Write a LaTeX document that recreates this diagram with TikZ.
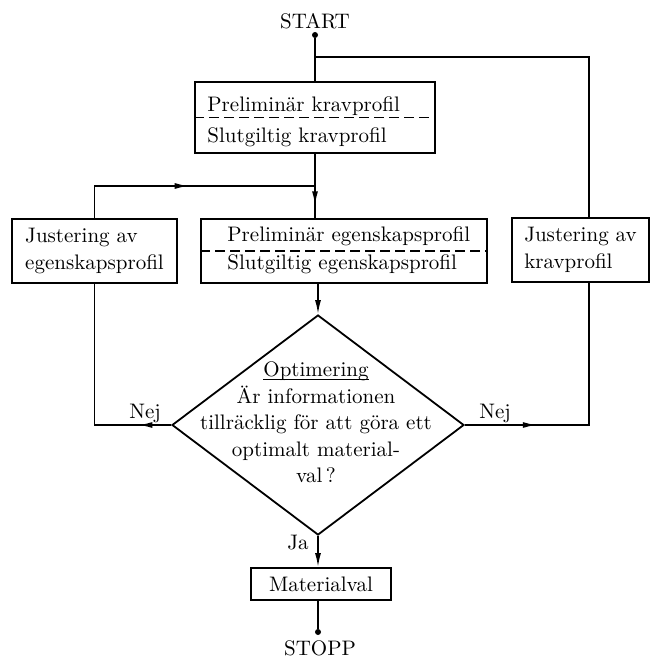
\documentclass[tikz,border=0pt]{standalone}
\usetikzlibrary{shapes.geometric,arrows.meta,decorations.markings}
\begin{document}
\begin{tikzpicture}[x=0.5pt, y=-0.5pt,
  box/.style={rectangle, draw, line width=0.9pt, inner sep=0pt},
  txt/.style={font=\fontsize{10.5}{13.2}\selectfont, inner sep=0pt},
  line/.style={line width=0.8pt},
  arr/.style={line width=0.8pt, -{Latex[length=7pt,width=3pt]}},
  midarrow/.style={postaction={decorate}, decoration={markings, mark=at position #1 with {\arrow{Latex[length=7pt,width=3pt]}}}},
  split/.style={line width=0.8pt, dash pattern=on 5pt off 2.5pt},
  dot/.style={circle, fill, inner sep=0pt, minimum size=3pt}]
  \useasboundingbox (0,0) rectangle (650,658);

  \node[txt] (start) at (315,21) {START};
  \node[dot] (sdot) at (315,35) {};
  \node[box, minimum width=120pt, minimum height=35.5pt] (krav) at (315,117.5) {};
  \node[txt, anchor=west] (kravpre) at (207,106) {Preliminär kravprofil};
  \node[txt, anchor=west] (kravslut) at (207,137) {Slutgiltig kravprofil};

  \node[box, txt, minimum width=82.5pt, minimum height=32pt, align=left] (jegen) at (94.5,251) {Justering av\\egenskapsprofil};
  \node[box, minimum width=143pt, minimum height=32pt] (egen) at (344,251) {};
  \node[txt, anchor=west] (egenpre) at (227,236) {Preliminär egenskapsprofil};
  \node[txt, anchor=west] (egenslut) at (227,264) {Slutgiltig egenskapsprofil};
  \node[box, txt, minimum width=68.5pt, minimum height=32pt, align=left] (jkrav) at (580.5,250) {Justering av\\kravprofil};

  \node[diamond, draw, line width=0.9pt, inner sep=0pt, minimum width=146pt, minimum height=110pt] (dia) at (318,425) {};
  \node[txt, align=center] (diatxt) at (316,422.5) {\underline{\raisebox{0pt}[\height][0pt]{Optimering}}\\Är informationen\\tillräcklig för att göra ett\\optimalt material-\\val\,?};

  \node[box, txt, minimum width=70pt, minimum height=16pt] (mval) at (321,584) {Materialval};
  \node[dot] (edot) at (318,632) {};
  \node[txt] (stopp) at (320,648) {STOPP};

  \node[txt] (nejl) at (145,413) {Nej};
  \node[txt] (nejr) at (495,413) {Nej};
  \node[txt] (ja) at (298,543) {Ja};

  \coordinate (rloop) at (589,57);
  \coordinate (rdown) at (589,425);

  \draw[split] (krav.west) -- (krav.east);
  \draw[split] (egen.west) -- (egen.east);

  \draw[line] (sdot) -- (krav.north);
  \draw[line] (rloop |- jkrav.north) -- (rloop) -- (krav.north |- rloop);
  \draw[line, midarrow=0.8] (krav.south) -- (krav.south |- egen.north);
  \draw[line, midarrow=0.5] (jegen.north) |- (krav.south |- 0,186);
  \draw[arr] (dia.north |- egen.south) -- (dia.north);
  \draw[line, midarrow=0.15] (dia.west) -| (jegen.south);
  \draw[line, midarrow=0.27] (dia.east) -- (rdown) -- (rdown |- jkrav.south);
  \draw[arr] (dia.south) -- (dia.south |- mval.north);
  \draw[line] (mval.south -| edot) -- (edot);
\end{tikzpicture}
\end{document}
